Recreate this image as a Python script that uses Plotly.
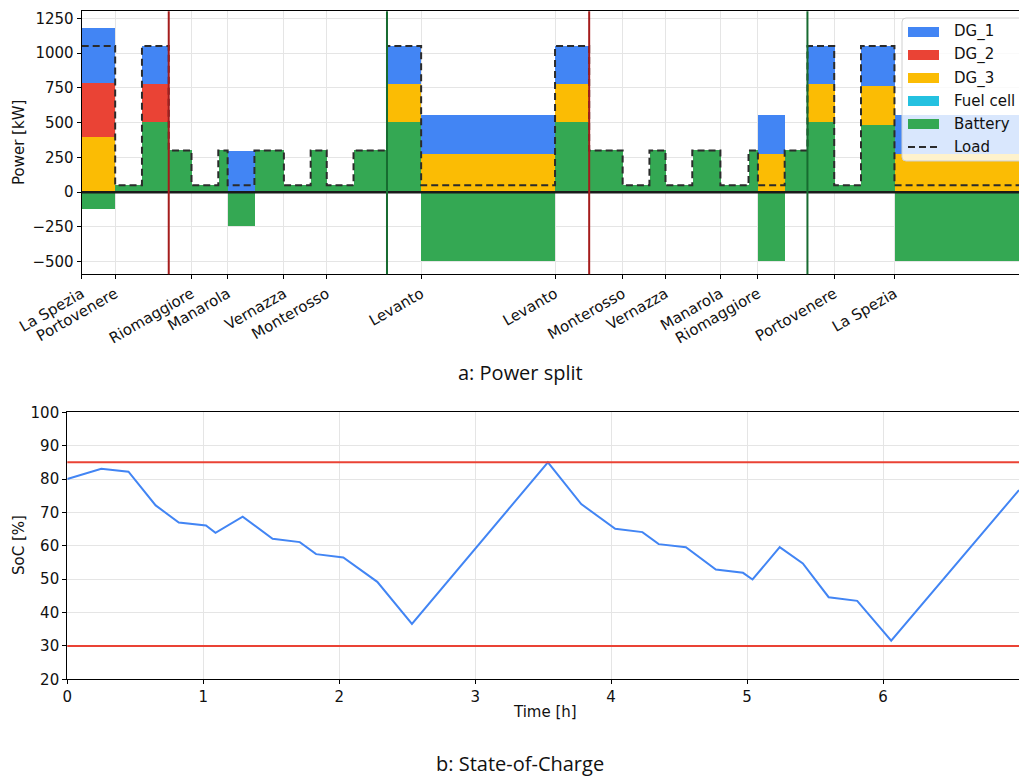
import plotly.graph_objects as go

W, H = 1019, 778


def px(x):
    return x / W


def py(y):
    return 1 - y / H


# ---------------- data: power split (time segments in hours) ----------------
seg_bounds = [0.0, 0.25, 0.45, 0.65, 0.82, 1.02, 1.09, 1.29, 1.51, 1.71, 1.83, 2.03,
              2.28, 2.535, 3.535, 3.79, 4.04, 4.24, 4.36, 4.56, 4.77, 4.98, 5.05,
              5.25, 5.42, 5.62, 5.82, 6.07, 7.0]
load = [1050, 50, 1050, 300, 50, 300, 50, 300, 50, 300, 50, 300,
        1050, 50, 1050, 300, 50, 300, 50, 300, 50, 300, 50, 300, 1050, 50, 1050, 50]
battery = [-125, 50, 500, 300, 50, 300, -245, 300, 50, 300, 50, 300,
           500, -500, 500, 300, 50, 300, 50, 300, 50, 300, -500, 300, 500, 50, 480, -500]
fuel_cell = [0, 0, 0, 0, 0, 0, 0, 0, 0, 0, 0, 0, 0, 0,
             0, 0, 0, 0, 0, 0, 0, 0, 0, 0, 0, 0, 0, 0]
dg_3 = [392, 0, 0, 0, 0, 0, 0, 0, 0, 0, 0, 0,
        275, 275, 275, 0, 0, 0, 0, 0, 0, 0, 275, 0, 275, 0, 283, 275]
dg_2 = [390, 0, 275, 0, 0, 0, 0, 0, 0, 0, 0, 0,
        0, 0, 0, 0, 0, 0, 0, 0, 0, 0, 0, 0, 0, 0, 0, 0]
dg_1 = [393, 0, 275, 0, 0, 0, 295, 0, 0, 0, 0, 0,
        275, 275, 275, 0, 0, 0, 0, 0, 0, 0, 275, 0, 275, 0, 287, 275]

port_times = [0.0, 0.25, 0.82, 1.09, 1.51, 1.83, 2.535, 3.535, 4.04, 4.36, 4.77, 5.05, 5.62, 6.07]
port_names = ["La Spezia", "Portovenere", "Riomaggiore", "Manarola", "Vernazza", "Monterosso",
              "Levanto", "Levanto", "Monterosso", "Vernazza", "Manarola", "Riomaggiore",
              "Portovenere", "La Spezia"]
marker_red = [0.65, 3.79]
marker_green = [2.28, 5.42]
power_ticks = [-500, -250, 0, 250, 500, 750, 1000, 1250]

# ---------------- data: state of charge ----------------
soc_time = [0.0, 0.25, 0.45, 0.65, 0.82, 1.02, 1.09, 1.29, 1.51, 1.71, 1.83, 2.03,
            2.28, 2.535, 3.535, 3.78, 4.03, 4.23, 4.35, 4.55, 4.77, 4.97, 5.04,
            5.24, 5.41, 5.60, 5.81, 6.06, 7.0]
soc_value = [80.0, 83.1, 82.2, 72.1, 67.0, 66.1, 63.9, 68.7, 62.1, 61.1, 57.5, 56.5,
             49.2, 36.6, 85.0, 72.5, 65.1, 64.1, 60.5, 59.6, 52.9, 51.9, 49.9,
             59.6, 54.7, 44.6, 43.5, 31.6, 76.7]
soc_limits = [30, 85]

# ---------------- styles ----------------
series_names = ["DG_1", "DG_2", "DG_3", "Fuel cell", "Battery"]
colors = {"DG_1": "#4285F4", "DG_2": "#EA4335", "DG_3": "#FBBC04",
          "Fuel cell": "#24C1E0", "Battery": "#34A853"}
FONT = "DejaVu Sans"
TITLE_FONT = "Open Sans"

mids = [(a + b) / 2 for a, b in zip(seg_bounds[:-1], seg_bounds[1:])]
widths = [b - a for a, b in zip(seg_bounds[:-1], seg_bounds[1:])]

fig = go.Figure()
stack = [("Battery", battery), ("Fuel cell", fuel_cell), ("DG_3", dg_3),
         ("DG_2", dg_2), ("DG_1", dg_1)]
for name, vals in stack:
    fig.add_trace(go.Bar(x=mids, y=vals, width=widths, name=name,
                         marker=dict(color=colors[name], line=dict(width=0)),
                         xaxis="x", yaxis="y", showlegend=False))

fig.add_trace(go.Scatter(x=seg_bounds, y=load + [load[-1]], mode="lines",
                         line=dict(color="#2b2b2b", width=2, dash="7px,4px", shape="hv"),
                         name="Load", xaxis="x", yaxis="y", showlegend=False))

fig.add_trace(go.Scatter(x=soc_time, y=soc_value, mode="lines",
                         line=dict(color="#4285F4", width=2),
                         name="SoC", xaxis="x2", yaxis="y2", showlegend=False))

shapes = []
for lim in soc_limits:
    shapes.append(dict(type="line", xref="x2 domain", yref="y2", x0=0, x1=1, y0=lim, y1=lim,
                       line=dict(color="#EA4335", width=2), layer="above"))
# zero line of power chart
shapes.append(dict(type="line", xref="x domain", yref="y", x0=0, x1=1, y0=0, y1=0,
                   line=dict(color="#1a1a1a", width=2.5), layer="above"))
for t in marker_red:
    shapes.append(dict(type="line", xref="x", yref="y domain", x0=t, x1=t, y0=0, y1=1,
                       line=dict(color="#A51C1C", width=2), layer="above"))
for t in marker_green:
    shapes.append(dict(type="line", xref="x", yref="y domain", x0=t, x1=t, y0=0, y1=1,
                       line=dict(color="#176B30", width=2), layer="above"))

# ---------------- manual legend ----------------
lx0, lx1, ly0, ly1, r = 902, 1040, 18, 161, 4
path = (f"M {px(lx0 + r)},{py(ly0)} L {px(lx1)},{py(ly0)} L {px(lx1)},{py(ly1)} "
        f"L {px(lx0 + r)},{py(ly1)} Q {px(lx0)},{py(ly1)} {px(lx0)},{py(ly1 - r)} "
        f"L {px(lx0)},{py(ly0 + r)} Q {px(lx0)},{py(ly0)} {px(lx0 + r)},{py(ly0)} Z")
shapes.append(dict(type="path", xref="paper", yref="paper", path=path,
                   fillcolor="rgba(255,255,255,0.8)", line=dict(color="#d0d0d0", width=1),
                   layer="above"))
annotations = []
row_y = [32, 55, 78, 101, 124, 147]
for i, name in enumerate(series_names):
    yc = row_y[i]
    shapes.append(dict(type="rect", xref="paper", yref="paper",
                       x0=px(908), x1=px(939), y0=py(yc + 5), y1=py(yc - 5),
                       fillcolor=colors[name], line=dict(width=0), layer="above"))
    annotations.append(dict(text=name, xref="paper", yref="paper", x=px(952), y=py(yc),
                            xanchor="left", yanchor="middle", showarrow=False,
                            font=dict(family=FONT, size=15, color="#111")))
shapes.append(dict(type="line", xref="paper", yref="paper", x0=px(908), x1=px(939),
                   y0=py(row_y[5]), y1=py(row_y[5]),
                   line=dict(color="#2b2b2b", width=2, dash="7px,4px"), layer="above"))
annotations.append(dict(text="Load", xref="paper", yref="paper", x=px(952), y=py(row_y[5]),
                        xanchor="left", yanchor="middle", showarrow=False,
                        font=dict(family=FONT, size=15, color="#111")))

# ---------------- axis titles and captions ----------------
annotations += [
    dict(text="Power [kW]", xref="paper", yref="paper", x=px(19), y=py(143), textangle=-90,
         xanchor="center", yanchor="middle", showarrow=False,
         font=dict(family=FONT, size=15, color="#111")),
    dict(text="SoC [%]", xref="paper", yref="paper", x=px(19), y=py(545), textangle=-90,
         xanchor="center", yanchor="middle", showarrow=False,
         font=dict(family=FONT, size=15, color="#111")),
    dict(text="Time [h]", xref="paper", yref="paper", x=px(545), y=py(712),
         xanchor="center", yanchor="middle", showarrow=False,
         font=dict(family=FONT, size=15, color="#111")),
    dict(text="a: Power split", xref="paper", yref="paper", x=px(520), y=py(372),
         xanchor="center", yanchor="middle", showarrow=False,
         font=dict(family=TITLE_FONT, size=20, color="#111")),
    dict(text="b: State-of-Charge", xref="paper", yref="paper", x=px(520), y=py(763.5),
         xanchor="center", yanchor="middle", showarrow=False,
         font=dict(family=TITLE_FONT, size=20, color="#111")),
]

axis_common = dict(showline=True, mirror=True, linecolor="black", linewidth=1.2,
                   ticks="outside", ticklen=4, tickcolor="black", tickwidth=1,
                   showgrid=True, gridcolor="#e5e5e5", gridwidth=1, zeroline=False,
                   automargin=False, tickfont=dict(family=FONT, size=15, color="#111"))

fig.update_layout(
    width=W, height=H,
    margin=dict(l=0, r=0, t=0, b=0),
    paper_bgcolor="white", plot_bgcolor="white",
    barmode="relative", bargap=0,
    showlegend=False,
    xaxis=dict(domain=[px(81.7), 1.0], range=[0, 7], anchor="y",
               tickmode="array", tickvals=port_times, ticktext=port_names, tickangle=-30,
               **axis_common),
    yaxis=dict(domain=[py(274.3), py(11.3)], range=[-590, 1300], anchor="x",
               tickmode="array", tickvals=power_ticks, **axis_common),
    xaxis2=dict(domain=[px(67.3), 1.0], range=[0, 7], anchor="y2", dtick=1, **axis_common),
    yaxis2=dict(domain=[py(679.3), py(412.3)], range=[20, 100], anchor="x2", dtick=10,
                **axis_common),
    shapes=shapes,
    annotations=annotations,
)

fig.write_html("out.html")
